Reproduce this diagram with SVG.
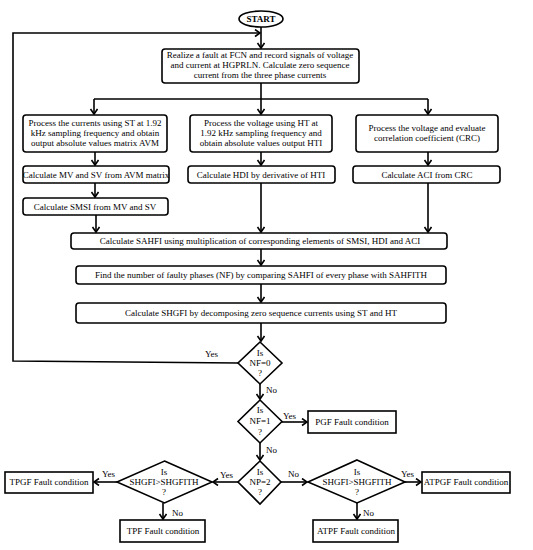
<svg xmlns="http://www.w3.org/2000/svg" width="533" height="550" viewBox="0 0 533 550">
<style>
.b{fill:#fff;stroke:#000;stroke-width:1.6}
.t{font-family:"Liberation Serif","Times New Roman",serif;font-size:9px;fill:#000;text-anchor:middle}
.l{font-family:"Liberation Serif","Times New Roman",serif;font-size:9px;fill:#000}
.c{fill:none;stroke:#000;stroke-width:1.6}
</style>
<defs>
<marker id="a" markerUnits="userSpaceOnUse" markerWidth="10" markerHeight="10" refX="6" refY="4" orient="auto">
<path d="M1,0.5 L6,4 L1,7.5" fill="none" stroke="#000" stroke-width="1.6"/>
</marker>
</defs>
<rect width="533" height="550" fill="#fff"/>
<g id="connectors">
<path class="c" d="M261,27 V48" marker-end="url(#a)"/>
<path class="c" d="M238,363 L13,361 V33 H260" marker-end="url(#a)"/>
<path class="c" d="M261,83 V99"/>
<path class="c" d="M94,99 H428"/>
<path class="c" d="M94,99 V114" marker-end="url(#a)"/>
<path class="c" d="M261,99 V114" marker-end="url(#a)"/>
<path class="c" d="M428,99 V114" marker-end="url(#a)"/>
<path class="c" d="M95,152 V165" marker-end="url(#a)"/>
<path class="c" d="M261,152 V165" marker-end="url(#a)"/>
<path class="c" d="M428,152 V165" marker-end="url(#a)"/>
<path class="c" d="M95,183 V197" marker-end="url(#a)"/>
<path class="c" d="M96,215 V232" marker-end="url(#a)"/>
<path class="c" d="M261,183 V232" marker-end="url(#a)"/>
<path class="c" d="M428,183 V232" marker-end="url(#a)"/>
<path class="c" d="M261,249 V265" marker-end="url(#a)"/>
<path class="c" d="M261,284 V302" marker-end="url(#a)"/>
<path class="c" d="M261,323 V341" marker-end="url(#a)"/>
<path class="c" d="M260,384 V399" marker-end="url(#a)"/>
<path class="c" d="M282,422 H307" marker-end="url(#a)"/>
<path class="c" d="M260,443 V460" marker-end="url(#a)"/>
<path class="c" d="M238,482 H213" marker-end="url(#a)"/>
<path class="c" d="M117,482 H94" marker-end="url(#a)"/>
<path class="c" d="M163,503 V519" marker-end="url(#a)"/>
<path class="c" d="M281,482 H307" marker-end="url(#a)"/>
<path class="c" d="M405,482 H421" marker-end="url(#a)"/>
<path class="c" d="M357,503 V519" marker-end="url(#a)"/>
<text class="l" x="205" y="357">Yes</text>
<text class="l" x="266" y="393">No</text>
<text class="l" x="283" y="419">Yes</text>
<text class="l" x="266" y="453">No</text>
<text class="l" x="220" y="478">Yes</text>
<text class="l" x="102" y="477">Yes</text>
<text class="l" x="172" y="516">No</text>
<text class="l" x="288" y="477">No</text>
<text class="l" x="401" y="477">Yes</text>
<text class="l" x="363" y="516">No</text>
</g>
<g id="start"><ellipse class="b" cx="261" cy="19" rx="22" ry="8"/><text class="t" x="261" y="22" font-weight="bold">START</text></g>
<g id="n1"><rect class="b" x="162" y="49" width="197" height="34" rx="3"/>
<text class="t" x="260" y="58">Realize a fault at FCN and record signals of voltage</text>
<text class="t" x="260" y="68">and current at HGPRLN. Calculate zero sequence</text>
<text class="t" x="260" y="78">current from the three phase currents</text></g>
<g id="n2"><rect class="b" x="23" y="115" width="144" height="37" rx="3"/>
<text class="t" x="95" y="126">Process the currents using ST at 1.92</text>
<text class="t" x="95" y="136">kHz sampling frequency and obtain</text>
<text class="t" x="95" y="146">output absolute values matrix AVM</text></g>
<g id="n3"><rect class="b" x="190" y="115" width="142" height="37" rx="3"/>
<text class="t" x="261" y="126">Process the voltage using HT at</text>
<text class="t" x="261" y="136">1.92 kHz sampling frequency and</text>
<text class="t" x="261" y="146">obtain absolute values output HTI</text></g>
<g id="n4"><rect class="b" x="356" y="115" width="142" height="37" rx="3"/>
<text class="t" x="427" y="131">Process the voltage and evaluate</text>
<text class="t" x="427" y="141">correlation coefficient (CRC)</text></g>
<g id="n5"><rect class="b" x="23" y="166" width="146" height="17" rx="3"/>
<text class="t" x="96" y="178">Calculate MV and SV from AVM matrix</text></g>
<g id="n6"><rect class="b" x="188" y="166" width="147" height="17" rx="3"/>
<text class="t" x="261" y="178">Calculate HDI by derivative of HTI</text></g>
<g id="n7"><rect class="b" x="353" y="166" width="147" height="17" rx="3"/>
<text class="t" x="427" y="178">Calculate ACI from CRC</text></g>
<g id="n8"><rect class="b" x="23" y="198" width="145" height="17" rx="3"/>
<text class="t" x="95" y="210">Calculate SMSI from MV and SV</text></g>
<g id="n9"><rect class="b" x="71" y="233" width="376" height="16" rx="3"/>
<text class="t" x="260" y="244">Calculate SAHFI using multiplication of corresponding elements of SMSI, HDI and ACI</text></g>
<g id="n10"><rect class="b" x="76" y="266" width="370" height="18" rx="3"/>
<text class="t" x="261" y="278">Find the number of faulty phases (NF) by comparing SAHFI of every phase with SAHFITH</text></g>
<g id="n11"><rect class="b" x="76" y="303" width="370" height="20" rx="3"/>
<text class="t" x="261" y="316">Calculate SHGFI by decomposing zero sequence currents using ST and HT</text></g>
<g id="d1"><path class="b" d="M260,342 L282,363 L260,384 L238,363 Z"/>
<text class="t" x="260" y="356">Is</text><text class="t" x="260" y="366">NF=0</text><text class="t" x="260" y="376">?</text></g>
<g id="d2"><path class="b" d="M260,400 L282,421.5 L260,443 L238,421.5 Z"/>
<text class="t" x="260" y="413">Is</text><text class="t" x="260" y="424">NF=1</text><text class="t" x="260" y="435">?</text></g>
<g id="pgf"><rect class="b" x="308" y="411" width="88" height="22"/>
<text class="t" x="352" y="425">PGF Fault condition</text></g>
<g id="d3"><path class="b" d="M260,461 L281,482 L260,504 L238,482 Z"/>
<text class="t" x="260" y="475">Is</text><text class="t" x="260" y="485">NP=2</text><text class="t" x="260" y="495">?</text></g>
<g id="d4"><path class="b" d="M164.5,461 L212,482 L164.5,503 L117,482 Z"/>
<text class="t" x="164" y="475">Is</text><text class="t" x="164" y="485">SHGFI&gt;SHGFITH</text><text class="t" x="164" y="495">?</text></g>
<g id="tpgf"><rect class="b" x="5" y="472" width="88" height="21"/>
<text class="t" x="49" y="485">TPGF Fault condition</text></g>
<g id="tpf"><rect class="b" x="120" y="520" width="85" height="22"/>
<text class="t" x="163" y="534">TPF Fault condition</text></g>
<g id="d5"><path class="b" d="M357,460 L405,482 L357,503 L308,482 Z"/>
<text class="t" x="357" y="475">Is</text><text class="t" x="357" y="485">SHGFI&gt;SHGFITH</text><text class="t" x="357" y="495">?</text></g>
<g id="atpgf"><rect class="b" x="422" y="472" width="88" height="21"/>
<text class="t" x="466" y="485">ATPGF Fault condition</text></g>
<g id="atpf"><rect class="b" x="313" y="520" width="85" height="22"/>
<text class="t" x="356" y="534">ATPF Fault condition</text></g>
</svg>
